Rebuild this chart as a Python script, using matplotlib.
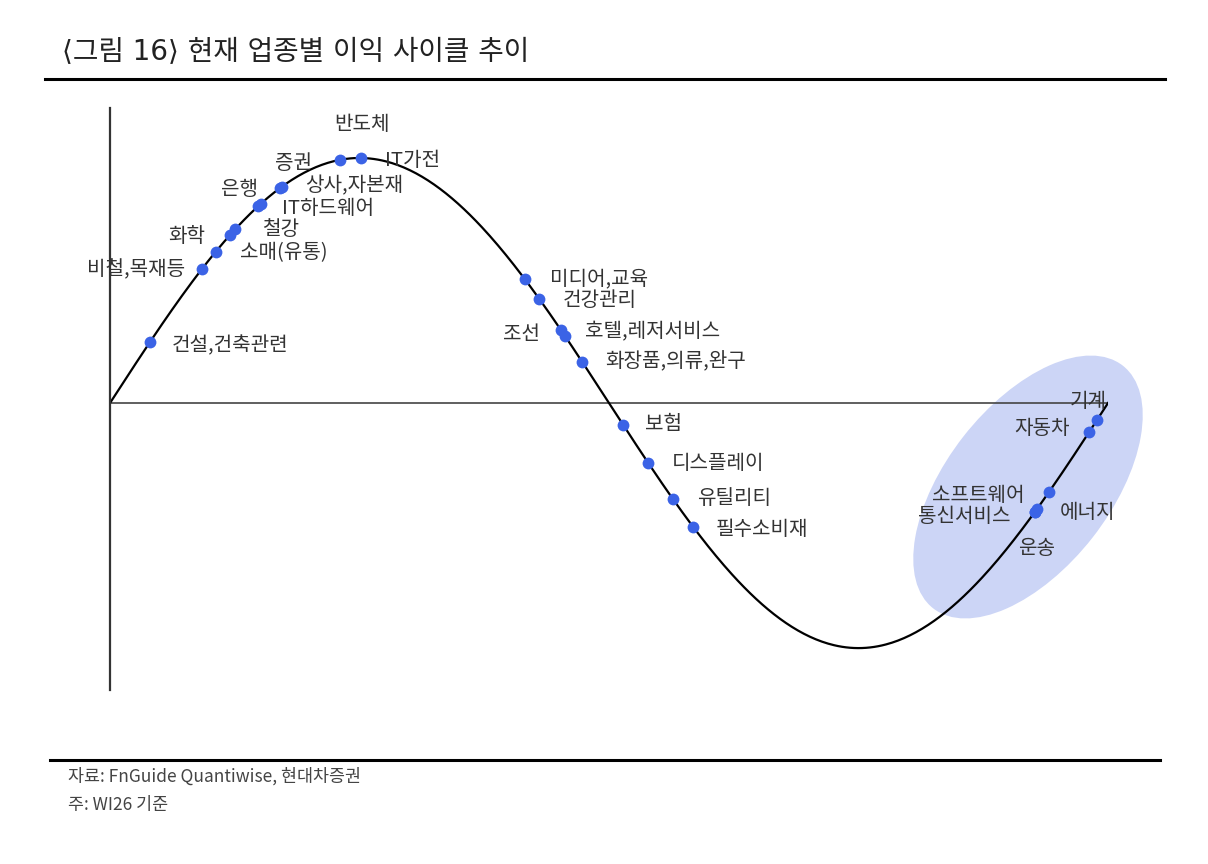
import matplotlib
matplotlib.use("Agg")
import matplotlib.pyplot as plt
from matplotlib.patches import Ellipse
from matplotlib.lines import Line2D
import numpy as np

plt.rcParams['font.family'] = ['Noto Sans CJK KR', 'DejaVu Sans']

# 업종별 이익 사이클 위치 (사이클 위상, 0~360도)
sectors = ["건설,건축관련", "비철,목재등", "화학", "철강", "소매(유통)", "은행",
           "IT하드웨어", "증권", "상사,자본재", "반도체", "IT가전",
           "미디어,교육", "건강관리", "조선", "호텔,레저서비스", "화장품,의류,완구",
           "보험", "디스플레이", "유틸리티", "필수소비재",
           "기계", "자동차", "소프트웨어", "통신서비스", "에너지", "운송"]
phase = [14.4, 33.2, 38.2, 43.3, 45.1, 53.4,
         54.5, 61.3, 62.0, 83.0, 90.6,
         149.7, 154.8, 162.7, 164.1, 170.3,
         185.1, 194.1, 203.1, 210.3,
         356.0, 353.1, 338.7, 333.7, 334.4, 333.7]

# label placement: (dx, dy) in pixels from the dot, horizontal alignment
label_pos = {
    "건설,건축관련": (22, -4, "left"), "비철,목재등": (-17, -1, "right"),
    "화학": (-11, 15, "right"), "철강": (32, 5, "left"),
    "소매(유통)": (5, -23, "left"), "은행": (0, 17, "right"),
    "IT하드웨어": (21, -5, "left"), "증권": (-5, 25, "left"),
    "상사,자본재": (23, 1, "left"), "반도체": (22, 35, "center"),
    "IT가전": (24, -2, "left"),
    "미디어,교육": (25, 1, "left"), "건강관리": (24, -2, "left"),
    "조선": (-21, -4, "right"), "호텔,레저서비스": (20, 4, "left"),
    "화장품,의류,완구": (23, 0, "left"), "보험": (22, 0, "left"),
    "디스플레이": (24, -1, "left"), "유틸리티": (24, 1, "left"),
    "필수소비재": (23, -3, "left"),
    "기계": (-27, 19, "left"), "자동차": (-19, 4, "right"),
    "소프트웨어": (-24, -3, "right"), "통신서비스": (-25, -5, "right"),
    "에너지": (23, -4, "left"), "운송": (1, -37, "center"),
}

W, H = 1208, 864
fig = plt.figure(figsize=(W / 100, H / 100), dpi=100)
fig.patch.set_facecolor("white")

ax = fig.add_axes([110 / W, (H - 690) / H, 998 / W, 582 / H])
ax.set_xlim(0, 360)
ax.set_ylim(-1.171, 1.204)
ax.set_facecolor("none")
for s in ["top", "right", "bottom"]:
    ax.spines[s].set_visible(False)
ax.spines["left"].set_color("#333333")
ax.spines["left"].set_linewidth(1.6)
ax.set_xticks([])
ax.set_yticks([])

# highlight ellipse around the early-cycle group
ell = Ellipse((10.28, (H - 487) / 100), 3.08, 1.64, angle=52,
              transform=fig.dpi_scale_trans, facecolor="#ccd5f6",
              edgecolor="none", zorder=0, clip_on=False)
ax.add_patch(ell)

ax.axhline(0, color="#444444", lw=1.2, zorder=1)

t = np.linspace(0, 360, 500)
ax.plot(t, np.sin(np.radians(t)), color="black", lw=1.6, zorder=2)

ph = np.array(phase)
yv = np.sin(np.radians(ph))
ax.plot(ph, yv, "o", color="#3b63e6", ms=8.5, mec="none", zorder=3)

for name, x, y in zip(sectors, ph, yv):
    dx, dy, ha = label_pos[name]
    ax.annotate(name, (x, y), xytext=(dx, dy), textcoords="offset pixels",
                ha=ha, va="center", fontsize=14.5, color="#333333", zorder=4)

# title and rules
fig.text(62 / W, 1 - 52 / H, "⟨그림 16⟩ 현재 업종별 이익 사이클 추이",
         fontsize=20, color="#222222", va="center", ha="left",
         family=['DejaVu Sans', 'Noto Sans CJK KR'])
fig.add_artist(Line2D([45 / W, 1165 / W], [1 - 79 / H, 1 - 79 / H],
                      color="black", lw=2.2))
fig.add_artist(Line2D([50 / W, 1160 / W], [1 - 760 / H, 1 - 760 / H],
                      color="black", lw=2.2))

fig.text(68 / W, 1 - 776 / H, "자료: FnGuide Quantiwise, 현대차증권",
         fontsize=12.5, color="#444444", va="center", ha="left")
fig.text(68 / W, 1 - 805 / H, "주: WI26 기준",
         fontsize=12.5, color="#444444", va="center", ha="left")

fig.savefig("out.png", dpi=100)
